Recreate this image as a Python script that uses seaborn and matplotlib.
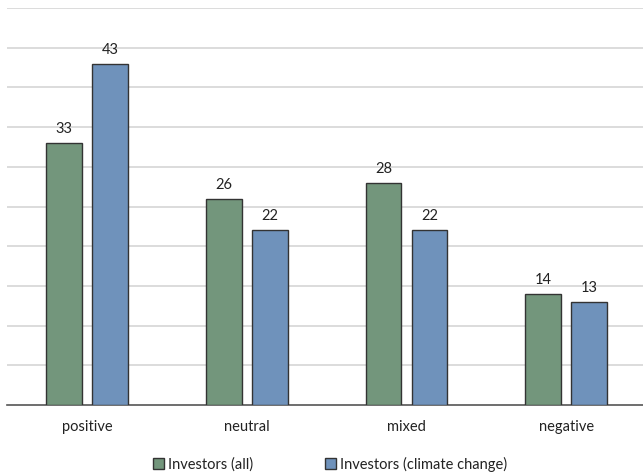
import matplotlib
matplotlib.use("Agg")
import matplotlib.pyplot as plt
import seaborn as sns
import pandas as pd

categories = ["positive", "neutral", "mixed", "negative"]
series_names = ["Investors (all)", "Investors (climate change)"]
investors_all = [33, 26, 28, 14]
investors_climate = [43, 22, 22, 13]
colors = ["#73967c", "#6f92bb"]

df = pd.DataFrame({
    "category": categories * 2,
    "series": [series_names[0]] * 4 + [series_names[1]] * 4,
    "value": investors_all + investors_climate,
})

sns.set_theme(style="white")
plt.rcParams["font.family"] = ["Lato", "DejaVu Sans"]

fig = plt.figure(figsize=(6.43, 4.75), dpi=100)
ax = fig.add_axes([7 / 643, (475 - 405) / 475, 636 / 643, 397 / 475])

sns.barplot(data=df, x="category", y="value", hue="series", order=categories,
            hue_order=series_names, palette=colors, width=0.576, gap=0.22,
            edgecolor="#333333", linewidth=1.0, saturation=1, ax=ax, zorder=3)

ax.set_ylim(0, 50)
ax.set_xlim(-0.5, 3.48)
ax.set_yticks(range(5, 51, 5))
ax.yaxis.grid(True, color="#d9d9d9", linewidth=1.3, zorder=0)
ax.set_axisbelow(True)
ax.tick_params(axis="y", left=False, labelleft=False)
ax.tick_params(axis="x", bottom=False, labelsize=10.5, colors="#222222", pad=5)
ax.set_xlabel("")
ax.set_ylabel("")
for s in ["left", "right", "top"]:
    ax.spines[s].set_visible(False)
ax.spines["bottom"].set_color("#555555")
ax.spines["bottom"].set_linewidth(1.2)

for cont in ax.containers:
    ax.bar_label(cont, fmt="%d", padding=5, fontsize=10.5, color="#222222")

leg = ax.legend(loc="upper center", bbox_to_anchor=(0.5 + 5 / 636, -0.097),
                ncol=2, frameon=False, fontsize=10.5, handlelength=0.75, handleheight=0.75,
                handletextpad=0.3, columnspacing=4.9)
for t in leg.get_texts():
    t.set_color("#222222")

fig.savefig("out.png", dpi=100)
